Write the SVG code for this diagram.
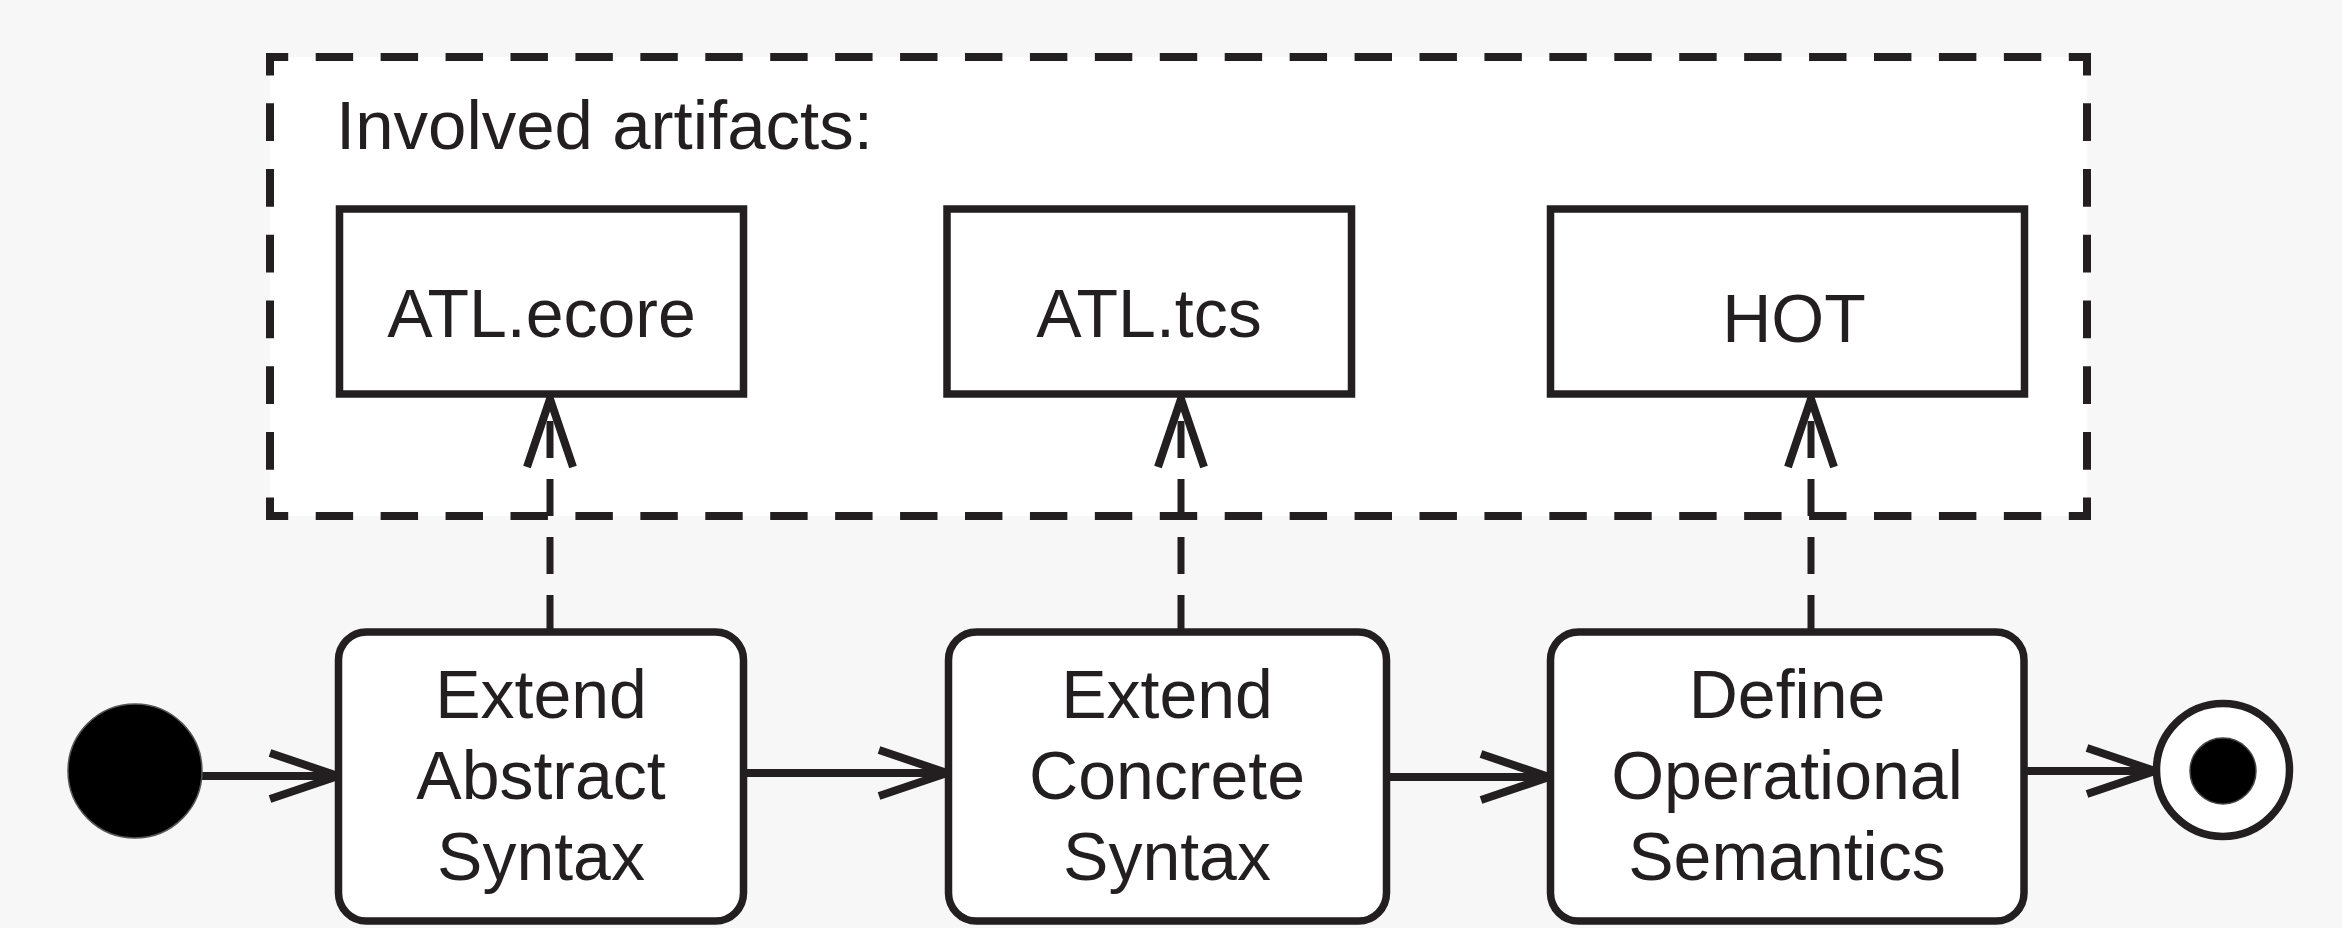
<svg xmlns="http://www.w3.org/2000/svg" width="2342" height="928" viewBox="0 0 2342 928">
  <style>
    .bg { fill: #f7f7f7; }
    .frame { fill: none; stroke: #231f20; stroke-width: 8; stroke-linecap: square; stroke-dasharray: 29 35; stroke-dashoffset: 15; }
    .artifact { fill: #ffffff; stroke: #231f20; stroke-width: 7.5; }
    .action { fill: #ffffff; stroke: #231f20; stroke-width: 7.5; }
    .flow { fill: none; stroke: #231f20; stroke-width: 8; marker-end: url(#open); }
    .dep { fill: none; stroke: #231f20; stroke-width: 7; stroke-dasharray: 37 21; marker-end: url(#open); }
    .label { font-family: "Liberation Sans", Arial, Helvetica, sans-serif; font-size: 68px; fill: #231f20; text-anchor: middle; }
    .title { font-family: "Liberation Sans", Arial, Helvetica, sans-serif; font-size: 69px; fill: #231f20; }
  </style>
  <defs>
    <marker id="open" markerUnits="userSpaceOnUse" refX="0" refY="0" markerWidth="100" markerHeight="100" orient="auto" overflow="visible">
      <path d="M-68,-23 L0,0 L-68,23" fill="none" stroke="#231f20" stroke-width="8" stroke-dasharray="none"/>
    </marker>
  </defs>

  <rect class="bg" x="0" y="0" width="2342" height="928"/>

  <!-- artifacts container -->
  <g id="artifacts">
    <rect x="270" y="57" width="1817" height="459" fill="#ffffff"/>
    <path class="frame" d="M270 57 H2087" pathLength="1791"/>
    <path class="frame" d="M2087 57 V516" pathLength="447"/>
    <path class="frame" d="M2087 516 H270" pathLength="1791"/>
    <path class="frame" d="M270 516 V57" pathLength="447"/>
    <text class="title" x="336" y="149">Involved artifacts:</text>
  </g>

  <!-- control flow and dependencies -->
  <g id="connectors">
    <path class="flow" d="M200 776 H338"/>
    <path class="flow" d="M743.5 773 H947"/>
    <path class="flow" d="M1386.5 777 H1549"/>
    <path class="flow" d="M2024 771 H2155"/>
    <path class="dep" d="M550 632 V399"/>
    <path class="dep" d="M1181 632 V399"/>
    <path class="dep" d="M1811 632 V399"/>
  </g>

  <g id="atl-ecore">
    <rect class="artifact" x="339.5" y="209" width="404" height="185"/>
    <text class="label" x="541.5" y="337">ATL.ecore</text>
  </g>
  <g id="atl-tcs">
    <rect class="artifact" x="947" y="209" width="404.5" height="185"/>
    <text class="label" x="1149" y="337">ATL.tcs</text>
  </g>
  <g id="hot">
    <rect class="artifact" x="1550.5" y="209" width="474" height="185"/>
    <text class="label" x="1794" y="342">HOT</text>
  </g>

  <g id="initial">
    <circle cx="135" cy="771" r="67" fill="#000000" stroke="#555555" stroke-width="1.5"/>
  </g>

  <g id="extend-abstract-syntax">
    <rect class="action" x="338.5" y="632" width="405" height="289" rx="28" ry="28"/>
    <text class="label" x="541" y="718">Extend</text>
    <text class="label" x="541" y="799">Abstract</text>
    <text class="label" x="541" y="880">Syntax</text>
  </g>
  <g id="extend-concrete-syntax">
    <rect class="action" x="948.5" y="632" width="438" height="289" rx="28" ry="28"/>
    <text class="label" x="1167" y="718">Extend</text>
    <text class="label" x="1167" y="799">Concrete</text>
    <text class="label" x="1167" y="880">Syntax</text>
  </g>
  <g id="define-operational-semantics">
    <rect class="action" x="1550.5" y="632" width="473.5" height="289" rx="28" ry="28"/>
    <text class="label" x="1787" y="718">Define</text>
    <text class="label" x="1787" y="799">Operational</text>
    <text class="label" x="1787" y="880">Semantics</text>
  </g>

  <g id="final">
    <circle cx="2223" cy="770" r="66.5" fill="#ffffff" stroke="#231f20" stroke-width="7.5"/>
    <circle cx="2223" cy="771" r="33" fill="#000000" stroke="#444444" stroke-width="1.5"/>
  </g>
</svg>
